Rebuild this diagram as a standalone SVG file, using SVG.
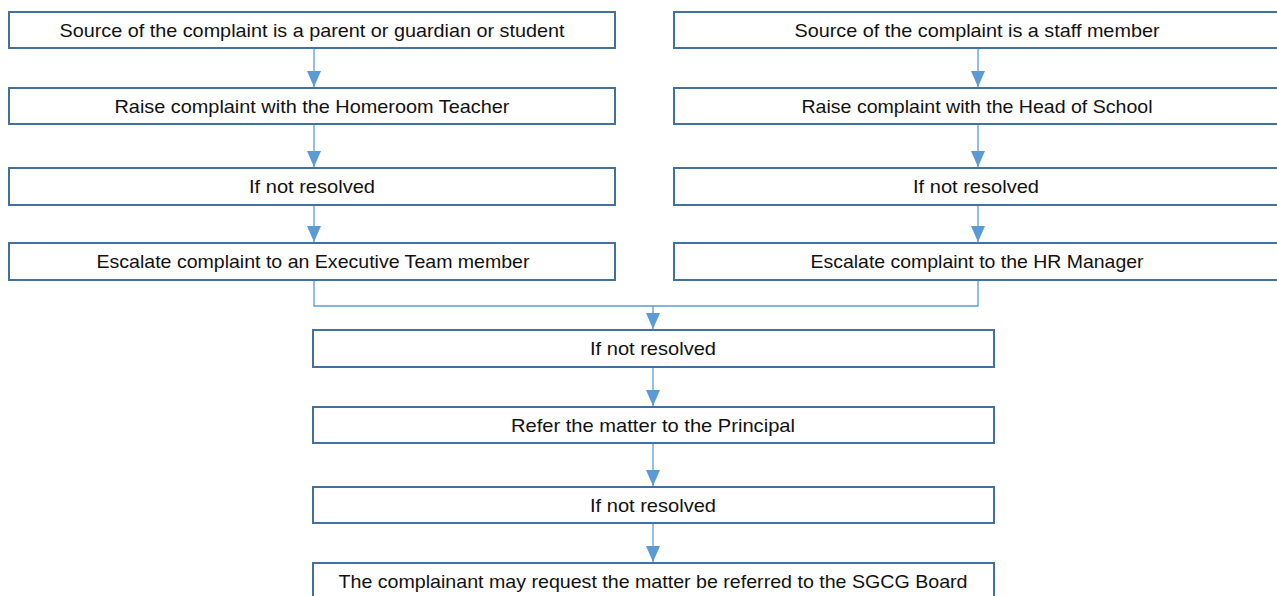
<svg xmlns="http://www.w3.org/2000/svg" width="1277" height="596" viewBox="0 0 1277 596">
<style>
.box{fill:#ffffff;stroke:#41719C;stroke-width:2}
.lbl{font-family:"Liberation Sans",Arial,sans-serif;font-size:18.5px;fill:#111111;text-anchor:middle}
.con{fill:none;stroke:#5B9BD5;stroke-width:1.3}
</style>
<defs>
<marker id="ah" viewBox="0 0 16 14" refX="16" refY="7" markerWidth="16" markerHeight="14" markerUnits="userSpaceOnUse" orient="auto">
<path d="M0,0 L16,7 L0,14 Z" fill="#5B9BD5"/>
</marker>
</defs>
<rect width="1277" height="596" fill="#ffffff"/>
<g id="connectors">
<line class="con" x1="314" y1="49" x2="314" y2="87" marker-end="url(#ah)"/>
<line class="con" x1="314" y1="125" x2="314" y2="167" marker-end="url(#ah)"/>
<line class="con" x1="314" y1="206" x2="314" y2="242" marker-end="url(#ah)"/>
<line class="con" x1="978" y1="49" x2="978" y2="87" marker-end="url(#ah)"/>
<line class="con" x1="978" y1="125" x2="978" y2="167" marker-end="url(#ah)"/>
<line class="con" x1="978" y1="206" x2="978" y2="242" marker-end="url(#ah)"/>
<polyline class="con" points="314,281 314,306 978,306 978,281"/>
<line class="con" x1="653" y1="306" x2="653" y2="329" marker-end="url(#ah)"/>
<line class="con" x1="653" y1="368" x2="653" y2="406" marker-end="url(#ah)"/>
<line class="con" x1="653" y1="444" x2="653" y2="486" marker-end="url(#ah)"/>
<line class="con" x1="653" y1="524" x2="653" y2="562" marker-end="url(#ah)"/>
</g>
<g id="n1"><rect class="box" x="9" y="12" width="606" height="36"/><text class="lbl" x="312" y="37" textLength="505" lengthAdjust="spacingAndGlyphs">Source of the complaint is a parent or guardian or student</text></g>
<g id="n2"><rect class="box" x="9" y="88" width="606" height="36"/><text class="lbl" x="312" y="113" textLength="395" lengthAdjust="spacingAndGlyphs">Raise complaint with the Homeroom Teacher</text></g>
<g id="n3"><rect class="box" x="9" y="168" width="606" height="37"/><text class="lbl" x="312" y="193" textLength="126" lengthAdjust="spacingAndGlyphs">If not resolved</text></g>
<g id="n4"><rect class="box" x="9" y="243" width="606" height="37"/><text class="lbl" x="313" y="268" textLength="433" lengthAdjust="spacingAndGlyphs">Escalate complaint to an Executive Team member</text></g>
<g id="n5"><rect class="box" x="674" y="12" width="610" height="36"/><text class="lbl" x="977" y="37" textLength="365" lengthAdjust="spacingAndGlyphs">Source of the complaint is a staff member</text></g>
<g id="n6"><rect class="box" x="674" y="88" width="610" height="36"/><text class="lbl" x="977" y="113" textLength="351" lengthAdjust="spacingAndGlyphs">Raise complaint with the Head of School</text></g>
<g id="n7"><rect class="box" x="674" y="168" width="610" height="37"/><text class="lbl" x="976" y="193" textLength="126" lengthAdjust="spacingAndGlyphs">If not resolved</text></g>
<g id="n8"><rect class="box" x="674" y="243" width="610" height="37"/><text class="lbl" x="977" y="268" textLength="333" lengthAdjust="spacingAndGlyphs">Escalate complaint to the HR Manager</text></g>
<g id="n9"><rect class="box" x="313" y="330" width="681" height="37"/><text class="lbl" x="653" y="355" textLength="126" lengthAdjust="spacingAndGlyphs">If not resolved</text></g>
<g id="n10"><rect class="box" x="313" y="407" width="681" height="36"/><text class="lbl" x="653" y="432" textLength="284" lengthAdjust="spacingAndGlyphs">Refer the matter to the Principal</text></g>
<g id="n11"><rect class="box" x="313" y="487" width="681" height="36"/><text class="lbl" x="653" y="512" textLength="126" lengthAdjust="spacingAndGlyphs">If not resolved</text></g>
<g id="n12"><rect class="box" x="313" y="563" width="681" height="40"/><text class="lbl" x="653" y="588" textLength="629" lengthAdjust="spacingAndGlyphs">The complainant may request the matter be referred to the SGCG Board</text></g>
</svg>
